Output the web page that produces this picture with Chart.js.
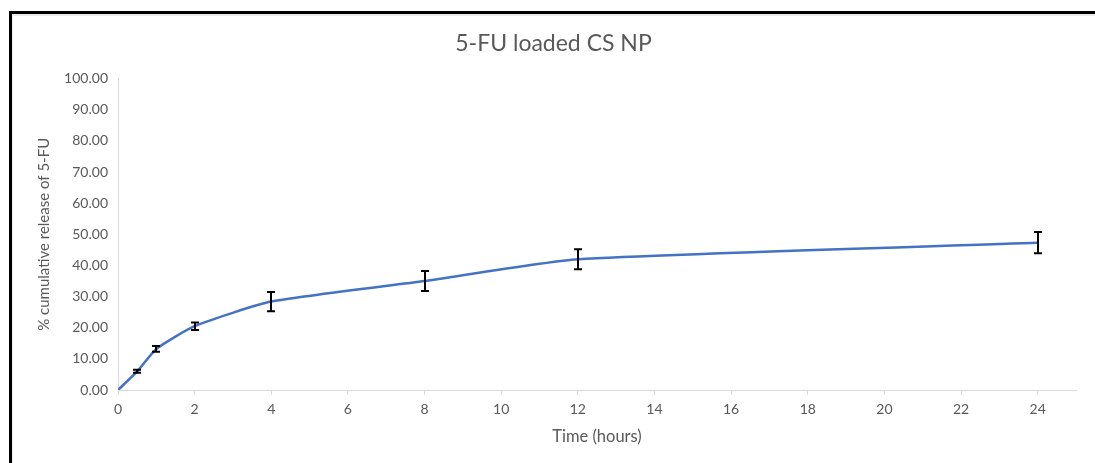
<!DOCTYPE html>
<html>
<head>
<meta charset="utf-8">
<script src="https://cdn.jsdelivr.net/npm/chart.js@4/dist/chart.umd.min.js"></script>
<style>
  html, body { margin: 0; padding: 0; background: #fff; width: 1095px; height: 463px; overflow: hidden; }
  #frame { position: absolute; left: 9px; top: 11px; width: 1200px; height: 600px;
           border-left: 3px solid #000; border-top: 3px solid #000; box-sizing: border-box; }
  #frame::after { content: ''; position: absolute; left: 0; top: 0; right: 0; bottom: 0;
                  border-left: 1px solid #ececec; border-top: 2px solid #ebebeb; }
  #wrap { position: absolute; left: 0; top: 0; width: 1095px; height: 463px; }
</style>
</head>
<body>
<div id="frame"></div>
<div id="wrap"><canvas id="c" width="1095" height="463"></canvas></div>
<script>
// Release profile of 5-FU from chitosan nanoparticles
const timeHours  = [0, 0.5, 1, 2, 4, 8, 12, 24];
const releasePct = [0, 6.0, 13.2, 20.5, 28.4, 35.0, 42.0, 47.3];
const releaseSD  = [0, 0.5, 0.9, 1.2, 3.1, 3.2, 3.2, 3.4];
const xTicks = [0, 2, 4, 6, 8, 10, 12, 14, 16, 18, 20, 22, 24];
const yTicks = [0, 10, 20, 30, 40, 50, 60, 70, 80, 90, 100];

const TEXT = '#595959';
const AXIS = '#d9d9d9';
const FONT = 'Lato, "Open Sans", sans-serif';

// Draws ±SD whiskers with caps at each sampled time point
const errorBars = {
  id: 'errorBars',
  afterDatasetsDraw(chart) {
    const { ctx, scales: { x, y } } = chart;
    ctx.save();
    ctx.strokeStyle = '#000';
    ctx.lineWidth = 2;
    const cap = 4;
    timeHours.forEach((t, i) => {
      const sd = releaseSD[i];
      if (!sd) return;
      const px = Math.round(x.getPixelForValue(t));
      const top = y.getPixelForValue(releasePct[i] + sd);
      const bot = y.getPixelForValue(releasePct[i] - sd);
      ctx.beginPath();
      ctx.moveTo(px, top); ctx.lineTo(px, bot);
      ctx.moveTo(px - cap, top); ctx.lineTo(px + cap, top);
      ctx.moveTo(px - cap, bot); ctx.lineTo(px + cap, bot);
      ctx.stroke();
    });
    ctx.restore();
  }
};

new Chart(document.getElementById('c'), {
  type: 'line',
  data: {
    datasets: [{
      data: timeHours.map((t, i) => ({ x: t, y: releasePct[i] })),
      borderColor: '#4472C4',
      borderWidth: 2.5,
      pointRadius: 0,
      tension: 0.18,
      fill: false
    }]
  },
  options: {
    responsive: false,
    devicePixelRatio: 1,
    animation: false,
    layout: { padding: { left: 31, right: 19, top: 0, bottom: 0 } },
    plugins: {
      legend: { display: false },
      tooltip: { enabled: false },
      title: {
        display: true,
        text: '5-FU loaded CS NP',
        color: TEXT,
        font: { family: FONT, size: 23, weight: 'normal' },
        padding: { top: 30, bottom: 21 }
      }
    },
    scales: {
      x: {
        type: 'linear',
        min: 0,
        max: 25,
        afterBuildTicks: s => { s.ticks = xTicks.map(v => ({ value: v })); },
        afterFit: s => { s.height = 73; },
        ticks: { color: TEXT, font: { family: FONT, size: 14 }, padding: 6, maxRotation: 0 },
        grid: { drawOnChartArea: false, drawTicks: true, tickLength: 5, color: AXIS, lineWidth: 1 },
        border: { color: AXIS, width: 1 },
        title: { display: true, text: 'Time (hours)', color: TEXT,
                 font: { family: FONT, size: 16.5 }, padding: { top: 4, bottom: 16 } }
      },
      y: {
        min: 0,
        max: 100,
        afterBuildTicks: s => { s.ticks = yTicks.map(v => ({ value: v })); },
        afterFit: s => { s.width = 87; },
        ticks: { color: TEXT, font: { family: FONT, size: 14 }, padding: 10,
                 callback: v => v.toFixed(2) },
        grid: { drawOnChartArea: false, drawTicks: false },
        border: { color: AXIS, width: 1 },
        title: { display: true, text: '% cumulative release of 5-FU', color: TEXT,
                 font: { family: FONT, size: 15 }, padding: { top: 4, bottom: 4 } }
      }
    }
  },
  plugins: [errorBars]
});
</script>
</body>
</html>
